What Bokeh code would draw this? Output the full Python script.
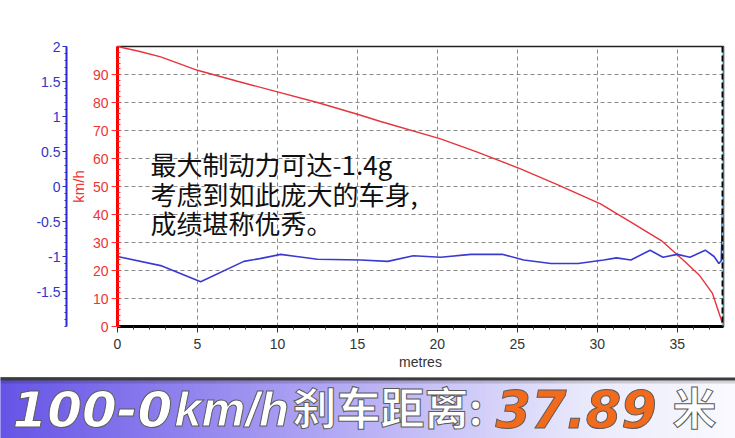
import numpy as np
from bokeh.plotting import figure
from bokeh.models import Range1d, LinearAxis, FixedTicker, Span, Label
from bokeh.layouts import column
from bokeh.embed import file_html
from bokeh.resources import INLINE

# ---------------- data ----------------
dist_speed = [0, 1.4, 2.7, 5.0, 7.5, 10.0, 12.5, 15.0, 16.4, 20.2, 22.5, 25.2, 27.5,
              30.2, 32.1, 34.0, 35.4, 36.4, 37.2, 37.7, 37.89]
speed = [100, 98.2, 96.3, 91.5, 87.6, 83.8, 80.0, 75.8, 73.3, 67.0, 62.3, 56.3, 50.7,
         43.8, 37.3, 30.7, 23.6, 18.2, 11.8, 3.3, 0]

dist_acc = [0, 2.7, 5.2, 7.9, 8.9, 10.2, 11.2, 12.5, 15.2, 16.9, 18.5, 20.2, 22.1, 24.1,
            25.4, 27.1, 28.8, 30.4, 31.2, 32.1, 33.3, 34.1, 35.0, 35.8, 36.75, 37.3,
            37.6, 37.75, 37.86]
acc = [-1.0, -1.13, -1.36, -1.07, -1.03, -0.97, -1.0, -1.04, -1.05, -1.07, -0.99, -1.01,
       -0.97, -0.97, -1.05, -1.1, -1.1, -1.05, -1.02, -1.05, -0.91, -1.01, -0.97, -1.01,
       -0.91, -1.0, -1.1, -1.06, -0.06]

x_ticks = [0, 5, 10, 15, 20, 25, 30, 35]
speed_ticks = [0, 10, 20, 30, 40, 50, 60, 70, 80, 90]
acc_ticks = [-1.5, -1, -0.5, 0, 0.5, 1, 1.5, 2]
acc_tick_labels = ["-1.5", "-1", "-0.5", "0", "0.5", "1", "1.5", "2"]

x_label = "metres"
speed_label = "km/h"
acc_label = "Longitudinal Acceleration (g)"
note_lines = ["最大制动力可达-1.4g", "考虑到如此庞大的车身,", "成绩堪称优秀。"]
banner_parts = ["100-0", "km/h", "刹车距离:", "37.89", "米"]

RED = "#ee3535"
BLUE = "#3434c8"

# ---------------- main chart ----------------
p = figure(width=735, height=373, x_range=Range1d(0, 37.89), y_range=Range1d(0, 100),
           output_backend="svg", toolbar_location=None, frame_align=False,
           min_border_left=117, min_border_right=12, min_border_top=46, min_border_bottom=47)
p.extra_y_ranges = {"acc": Range1d(-2, 2)}
p.background_fill_color = "white"
p.border_fill_color = "white"
p.outline_line_color = "#222222"
p.outline_line_width = 1.5

# x axis
xa = p.xaxis[0]
xa.ticker = FixedTicker(ticks=x_ticks, minor_ticks=list(range(0, 38)))
xa.axis_line_color = "black"
xa.axis_line_width = 3
xa.major_tick_line_color = "#333333"
xa.major_tick_out = 6
xa.major_tick_in = 0
xa.minor_tick_line_color = "#333333"
xa.minor_tick_out = 3
xa.minor_tick_in = 0
xa.major_label_text_font = "Liberation Sans"
xa.major_label_text_font_size = "14px"
xa.major_label_text_color = "#333333"
xa.major_label_standoff = 6
xa.axis_label = x_label
xa.axis_label_text_font = "Liberation Sans"
xa.axis_label_text_font_size = "14px"
xa.axis_label_text_font_style = "normal"
xa.axis_label_text_color = "#333333"
xa.axis_label_standoff = 2

# red (speed) axis
ya = p.yaxis[0]
ya.ticker = FixedTicker(ticks=speed_ticks, minor_ticks=list(range(0, 101, 2)))
ya.axis_line_color = "#ff0000"
ya.axis_line_width = 3
ya.major_tick_line_color = "#ff3030"
ya.major_tick_out = 6
ya.major_tick_in = 0
ya.minor_tick_line_color = "#ff3030"
ya.minor_tick_in = 3
ya.minor_tick_out = 0
ya.major_label_text_font = "Liberation Sans"
ya.major_label_text_font_size = "14px"
ya.major_label_text_color = RED
ya.major_label_standoff = 3
ya.axis_label = speed_label
ya.axis_label_text_font = "Liberation Sans"
ya.axis_label_text_font_size = "15px"
ya.axis_label_text_font_style = "normal"
ya.axis_label_text_color = RED
ya.axis_label_standoff = 3

# blue (acceleration) axis
ba = LinearAxis(y_range_name="acc",
                ticker=FixedTicker(ticks=acc_ticks,
                                   minor_ticks=[round(-2 + 0.1 * i, 1) for i in range(41)]),
                major_label_overrides=dict(zip(acc_ticks, acc_tick_labels)))
ba.axis_line_color = "#2a2ad0"
ba.axis_line_width = 2
ba.major_tick_line_color = "#2a2ad0"
ba.major_tick_out = 4
ba.major_tick_in = 0
ba.minor_tick_line_color = "#2a2ad0"
ba.minor_tick_out = 2
ba.minor_tick_in = 0
ba.major_label_text_font = "Liberation Sans"
ba.major_label_text_font_size = "14px"
ba.major_label_text_color = BLUE
ba.major_label_standoff = 2
p.add_layout(ba, "left")

# grid
for g, t in ((p.xgrid[0], x_ticks[1:]), (p.ygrid[0], speed_ticks[1:])):
    g.ticker = FixedTicker(ticks=t)
    g.grid_line_color = "#8a8a8a"
    g.grid_line_dash = "4 3"
    g.grid_line_width = 1

# right edge markers
p.add_layout(Span(location=37.875, dimension="height", line_color="#80e0f0", line_width=2))
p.add_layout(Span(location=37.83, dimension="height", line_color="black",
                  line_dash="6 3", line_width=2))

# series
p.line(dist_speed, speed, line_color="#e8323c", line_width=1.4)
p.line(dist_acc, acc, y_range_name="acc", line_color="#3a3ad0", line_width=1.6)

# blue axis title
p.add_layout(Label(x=-5.25, y=41.4, text=acc_label, angle=90, angle_units="deg",
                   text_align="center", text_baseline="middle", text_color=BLUE,
                   text_font="Liberation Sans", text_font_size="16px"))

# annotation
for txt, yy in zip(note_lines, [58.2, 47.5, 37.1]):
    p.add_layout(Label(x=2.06, y=yy, text=txt, text_font="Noto Sans CJK SC",
                       text_font_size="26px", text_color="#111111", text_baseline="middle"))

# ---------------- banner ----------------
BH = 65
b = figure(width=735, height=BH, x_range=Range1d(0, 735), y_range=Range1d(BH, 0),
           output_backend="svg", toolbar_location=None, x_axis_type=None, y_axis_type=None,
           frame_align=False, min_border=0, min_border_left=0, min_border_right=0,
           min_border_top=0, min_border_bottom=0)
b.outline_line_color = None
b.grid.visible = False
b.background_fill_color = "white"
b.border_fill_color = "white"

stops = np.array([0.0, 0.45, 0.8, 1.0])
stop_cols = np.array([[102, 84, 230], [178, 168, 245], [234, 234, 252], [250, 250, 255]])
n = 147
edges = np.linspace(0, 735, n + 1)
fr = (edges[:-1] + edges[1:]) / 2 / 735
cols = ["#%02x%02x%02x" % tuple(int(np.interp(f, stops, stop_cols[:, k])) for k in range(3))
        for f in fr]
b.quad(left=edges[:-1], right=edges[1:], top=4, bottom=BH, fill_color=cols, line_color=cols)
b.quad(left=0, right=735, top=4, bottom=7, fill_color="#3c3c3c", line_color=None)
b.quad(left=0, right=735, top=7, bottom=10, fill_color="black", fill_alpha=0.15, line_color=None)

seg_style = [
    (12, 35, "DejaVu Sans", "bold italic", "50px", "white"),
    (174, 35, "Liberation Sans", "bold italic", "49px", "white"),
    (292, 32.5, "Noto Sans CJK SC", "bold", "44px", "white"),
    (495, 35, "DejaVu Sans", "bold italic", "51px", "#f26a1b"),
    (672, 32.5, "Noto Sans CJK SC", "bold", "44px", "white"),
]
for txt, (xx, yy, font, style, size, col) in zip(banner_parts, seg_style):
    b.add_layout(Label(x=xx, y=yy, text=txt, text_font=font, text_font_style=style,
                       text_font_size=size, text_color=col, text_baseline="middle",
                       text_outline_color="#5a5a5a"))

layout = column(p, b, spacing=0)
open("out.html", "w").write(file_html(layout, INLINE))
